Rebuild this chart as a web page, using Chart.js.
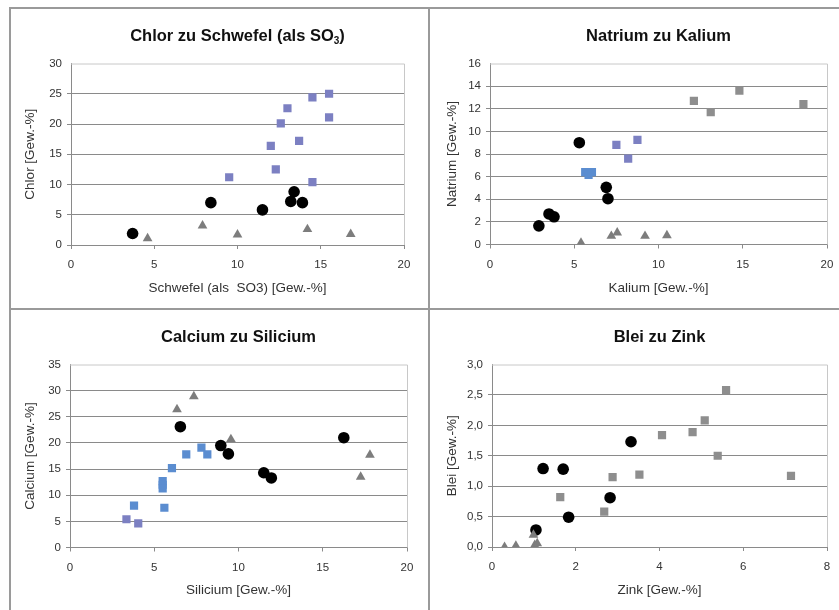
<!DOCTYPE html>
<html><head><meta charset="utf-8">
<script src="https://cdn.jsdelivr.net/npm/chart.js@4"></script>
<style>
html,body{margin:0;padding:0;background:#fff;overflow:hidden;}
#wrap{position:relative;width:839px;height:610px;overflow:hidden;background:#fff;font-family:"Liberation Sans",Arial,sans-serif;}
canvas{position:absolute;}
.line{position:absolute;background:#9a9a9a;}
.ttl{position:absolute;font-weight:bold;font-size:16.5px;color:#111;text-align:center;white-space:nowrap;transform:translateX(-50%);line-height:20px;}
.ttl sub{font-size:10px;vertical-align:-3px;line-height:0;}
</style></head>
<body><div id="wrap">
<canvas id="c1"></canvas><canvas id="c2"></canvas><canvas id="c3"></canvas><canvas id="c4"></canvas>
<div class="line" style="left:9px;top:7px;width:2px;height:603px"></div>
<div class="line" style="left:9px;top:7px;width:830px;height:2px"></div>
<div class="line" style="left:428px;top:7px;width:2px;height:603px"></div>
<div class="line" style="left:9px;top:308px;width:830px;height:2px"></div>
<div class="ttl" id="t1">Chlor zu Schwefel (als SO<sub>3</sub>)</div>
<div class="ttl" id="t2">Natrium zu Kalium</div>
<div class="ttl" id="t3">Calcium zu Silicium</div>
<div class="ttl" id="t4">Blei zu Zink</div>
</div>
<script>
// ---- Data ----
const chlorKreise = [[3.7,1.9],[8.4,7.0],[11.5,5.8],[13.2,7.2],[13.4,8.8],[13.9,7.0]];
const chlorQuadrate = [[9.5,11.2],[12.0,16.4],[12.3,12.5],[12.6,20.1],[13.0,22.6],[13.7,17.2],[14.5,24.4],[14.5,10.4],[15.5,25.0],[15.5,21.1]];
const chlorDreiecke = [[4.6,1.1],[7.9,3.2],[10.0,1.7],[14.2,2.6],[16.8,1.8]];

const natriumKreise = [[2.9,1.65],[3.5,2.7],[3.8,2.45],[5.3,9.0],[6.9,5.05],[7.0,4.05]];
const natriumQuadrateBlau = [[5.65,6.4],[5.85,6.15],[6.05,6.4]];
const natriumQuadrateViolett = [[7.5,8.8],[8.2,7.6],[8.75,9.25]];
const natriumQuadrateGrau = [[12.1,12.7],[13.1,11.7],[14.8,13.6],[18.6,12.4]];
const natriumDreiecke = [[5.4,0.15],[7.2,0.75],[7.55,1.05],[9.2,0.75],[10.5,0.8]];

const calciumKreise = [[6.55,23.1],[8.95,19.5],[9.4,17.9],[11.5,14.3],[11.95,13.3],[16.25,21.0]];
const calciumQuadrateBlau = [[3.8,8.0],[5.5,12.7],[5.5,12.0],[5.5,11.3],[5.6,7.6],[6.05,15.2],[6.9,17.8],[7.8,19.1],[8.15,17.8]];
const calciumQuadrateViolett = [[3.35,5.4],[4.05,4.6]];
const calciumDreiecke = [[6.35,26.4],[7.35,28.9],[9.55,20.7],[17.25,13.5],[17.8,17.7]];

const bleiKreise = [[1.05,0.28],[1.22,1.29],[1.7,1.28],[1.83,0.49],[2.82,0.81],[3.32,1.73]];
const bleiQuadrate = [[1.63,0.82],[2.68,0.58],[2.88,1.15],[3.52,1.19],[4.06,1.84],[4.79,1.89],[5.08,2.08],[5.39,1.5],[5.59,2.58],[7.14,1.17]];
const bleiDreiecke = [[0.3,0.0],[0.57,0.02],[0.99,0.2],[1.02,0.03],[1.08,0.06]];

// tick settings
const xMax1 = 20, yMax1 = 30, yStep1 = 5;
const xMax2 = 20, yMax2 = 16, yStep2 = 2;
const xMax3 = 20, yMax3 = 35, yStep3 = 5;
const xMax4 = 8,  yMax4 = 3,  yStep4 = 0.5;

const xTitles = ['Schwefel (als  SO3) [Gew.-%]','Kalium [Gew.-%]','Silicium [Gew.-%]','Zink [Gew.-%]'];
const yTitles = ['Chlor [Gew.-%]','Natrium [Gew.-%]','Calcium [Gew.-%]','Blei [Gew.-%]'];

// ---- Styles ----
const FONT = '"Liberation Sans", Arial, sans-serif';
const BLACK = '#000000', TRI = '#7d7d7d', VIOLETT = '#7c80c2', BLAU = '#5b8dd0', GRAU = '#8e8e8e';

function pts(a){ return a.map(p=>({x:p[0],y:p[1]})); }
function circ(a){ return {data:pts(a),pointStyle:'circle',pointRadius:5.8,backgroundColor:BLACK,borderColor:BLACK,borderWidth:0}; }
function sq(a,c){ return {data:pts(a),pointStyle:'rect',pointRadius:5.8,backgroundColor:c,borderColor:c,borderWidth:0}; }
function tri(a){ return {data:pts(a),pointStyle:'triangle',pointRadius:5.6,backgroundColor:TRI,borderColor:TRI,borderWidth:0}; }

const boxPlugin = {
  id:'box',
  beforeDatasetsDraw(chart){
    const a = chart.chartArea, ctx = chart.ctx;
    ctx.save();
    ctx.strokeStyle = '#c8c8c8'; ctx.lineWidth = 1;
    ctx.beginPath();
    ctx.moveTo(a.left, a.top+0.5); ctx.lineTo(a.right+0.5, a.top+0.5); ctx.lineTo(a.right+0.5, a.bottom);
    ctx.stroke();
    ctx.restore();
  }
};

const panels = [
  {id:'c1',canvas:{l:12,t:10,w:416,h:298},plot:{l:71,r:404,t:63.5,b:245},xMax:xMax1,xStep:5,yMax:yMax1,yStep:yStep1,
   sets:[sq(chlorQuadrate,VIOLETT),tri(chlorDreiecke),circ(chlorKreise)],dec:false,title:'t1',yPad:10},
  {id:'c2',canvas:{l:431,t:10,w:430,h:298},plot:{l:490,r:827,t:63.5,b:244.5},xMax:xMax2,xStep:5,yMax:yMax2,yStep:yStep2,
   sets:[sq(natriumQuadrateGrau,GRAU),sq(natriumQuadrateViolett,VIOLETT),sq(natriumQuadrateBlau,BLAU),tri(natriumDreiecke),circ(natriumKreise)],dec:false,title:'t2',yPad:13},
  {id:'c3',canvas:{l:12,t:311,w:416,h:299},plot:{l:70,r:407,t:364.5,b:547.5},xMax:xMax3,xStep:5,yMax:yMax3,yStep:yStep3,
   sets:[sq(calciumQuadrateViolett,VIOLETT),sq(calciumQuadrateBlau,BLAU),tri(calciumDreiecke),circ(calciumKreise)],dec:false,title:'t3',yPad:10},
  {id:'c4',canvas:{l:431,t:311,w:430,h:299},plot:{l:492,r:827,t:364.5,b:547},xMax:xMax4,xStep:2,yMax:yMax4,yStep:yStep4,
   sets:[sq(bleiQuadrate,GRAU),tri(bleiDreiecke),circ(bleiKreise)],dec:true,title:'t4',yPad:13}
];

panels.forEach((p,i)=>{
  const cv = document.getElementById(p.id);
  cv.style.left = p.canvas.l+'px'; cv.style.top = p.canvas.t+'px';
  cv.width = p.canvas.w; cv.height = p.canvas.h;
  cv.style.width = p.canvas.w+'px'; cv.style.height = p.canvas.h+'px';
  const t = document.getElementById(p.title);
  t.style.left = ((p.plot.l+p.plot.r)/2)+'px';
  t.style.top = (p.canvas.t+15)+'px';
  const yW = p.plot.l - p.canvas.l;
  const xH = p.canvas.t + p.canvas.h - p.plot.b;
  new Chart(cv,{
    type:'scatter',
    data:{datasets:p.sets},
    plugins:[boxPlugin],
    options:{
      responsive:false,animation:false,
      layout:{padding:{left:0,top:p.plot.t-p.canvas.t,right:p.canvas.l+p.canvas.w-p.plot.r,bottom:0}},
      plugins:{legend:{display:false},tooltip:{enabled:false}},
      scales:{
        x:{type:'linear',min:0,max:p.xMax,
          ticks:{stepSize:p.xStep,color:'#333',font:{family:FONT,size:11.5},padding:9},
          grid:{drawOnChartArea:false,drawTicks:true,tickLength:4,color:'#8a8a8a'},
          border:{display:true,color:'#8a8a8a',width:1},
          title:{display:true,text:xTitles[i],color:'#333',font:{family:FONT,size:13.5},padding:{top:0,bottom:12}},
          afterFit:(s)=>{s.height = xH;}
        },
        y:{type:'linear',min:0,max:p.yMax,
          ticks:{stepSize:p.yStep,color:'#333',font:{family:FONT,size:11.5},padding:5,
            callback:(v)=> p.dec ? v.toFixed(1).replace('.',',') : String(v)},
          grid:{drawTicks:true,tickLength:4,color:(c)=> (c.tick && c.tick.value>=p.yMax-1e-9) ? 'rgba(0,0,0,0)' : '#8a8a8a'},
          border:{display:true,color:'#8a8a8a',width:1},
          title:{display:true,text:yTitles[i],color:'#333',font:{family:FONT,size:13.5},padding:{top:p.yPad,bottom:0}},
          afterFit:(s)=>{s.width = yW;}
        }
      }
    }
  });
});
</script>
</body></html>
